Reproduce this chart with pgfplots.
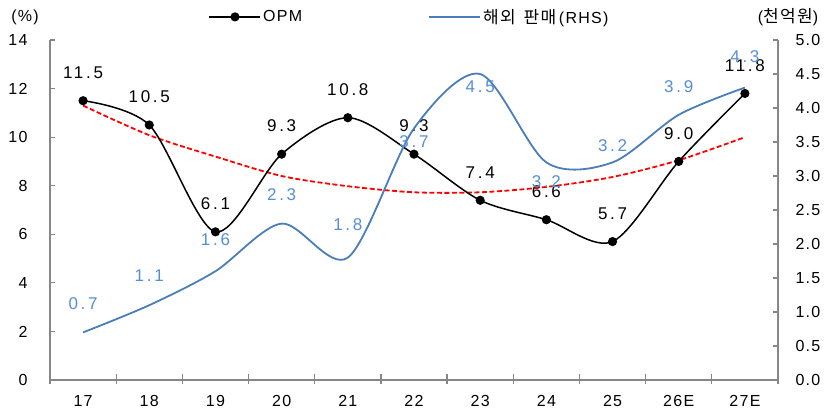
\documentclass[border=0pt]{standalone}
\usepackage{pgfplots}
\pgfplotsset{compat=1.18}
\usepackage{pgfplotstable}
\usepackage{fontspec}
\setmainfont{Liberation Sans}
\newfontfamily\krfont[LetterSpace=8]{Noto Sans CJK KR}
\newfontfamily\tickfam[LetterSpace=8]{Liberation Sans}
\newfontfamily\labfam[LetterSpace=16]{Liberation Sans}
\newcommand\tickfont{\tickfam\fontsize{16bp}{18bp}\selectfont}
\newcommand\labfont{\labfam\fontsize{17bp}{19bp}\selectfont}
\definecolor{axgray}{RGB}{134,134,134}
\definecolor{serblue}{RGB}{74,126,187}
\definecolor{labblue}{RGB}{85,142,213}

\pgfplotstableread{
x opm trend sales
0 11.5 11.30 0.7
1 10.5 10.08 1.1
2 6.1 9.20 1.6
3 9.3 8.40 2.3
4 10.8 7.98 1.8
5 9.3 7.73 3.7
6 7.4 7.73 4.5
7 6.6 7.95 3.2
8 5.7 8.36 3.2
9 9.0 9.05 3.9
10 11.8 10.00 4.3
}\datatable

\begin{document}
\begin{tikzpicture}
\pgfplotsset{
  common/.style={
    at={(0,0)}, anchor=south west, scale only axis,
    width=728bp, height=340bp,
    xmin=-0.5, xmax=10.5, clip=false,
    tick align=inside,
    /pgf/number format/assume math mode=true,
    tick style={axgray, line width=1.2bp},
    major tick length=5bp,
    axis line style={axgray, line width=1.5bp},
    ticklabel style={font=\tickfont, text=black},
  }
}
\begin{axis}[common,
  ymin=0, ymax=14, ytick={0,2,...,14},
  axis y line*=left, axis x line*=bottom,
  xtick={-0.5,0.5,...,10.5},
  x tick label as interval,
  xticklabels={17,18,19,20,21,22,23,24,25,26E,27E},
  x tick style={yshift=-4bp, yscale=2},
  xticklabel style={yshift=-12bp},
  yticklabel style={xshift=-19bp},
]
\addplot[red, dash pattern=on 5bp off 2.5bp, line width=1.8bp, smooth] table[x=x,y=trend]{\datatable};
\addplot[black, line width=1.5bp, smooth, mark=*, mark size=3.8bp, mark options={solid},
  nodes near coords, point meta=y,
  nodes near coords style={font=\labfont, text=black, anchor=center, yshift=28bp,
    /pgf/number format/fixed, /pgf/number format/fixed zerofill, /pgf/number format/precision=1}]
  table[x=x,y=opm]{\datatable};
\end{axis}
\begin{axis}[common,
  ymin=0, ymax=5, ytick={0,0.5,...,5},
  axis y line*=right, axis x line=none,
  yticklabel style={xshift=14bp, /pgf/number format/fixed, /pgf/number format/fixed zerofill, /pgf/number format/precision=1},
  legend style={at={(0.494,1.068)}, anchor=center, draw=none, fill=none,
    font=\tickfont, legend columns=2,
    /tikz/every even column/.append style={column sep=124bp}},
  legend image code/.code={\draw[mark repeat=2,mark phase=2,#1] plot coordinates {(0bp,0bp) (25.5bp,0bp) (51bp,0bp)};},
]
\addlegendimage{black, line width=1.5bp, mark=*, mark size=3.8bp}
\addlegendentry{OPM}
\addplot[serblue, line width=1.8bp, smooth] table[x=x,y=sales]{\datatable};
\addlegendentry{{\krfont\fontsize{17bp}{19bp}\selectfont 해외\hspace{8bp}판매}\,(RHS)}
\addplot[draw=none, mark=none, forget plot, nodes near coords, point meta=explicit symbolic,
  nodes near coords style={font=\labfont, text=labblue, anchor=center}]
  coordinates {(0,1.12)[0.7] (1,1.54)[1.1] (2,2.06)[1.6] (3,2.72)[2.3] (4,2.28)[1.8]
   (5,3.5)[3.7] (6,4.31)[4.5] (7,2.91)[3.2] (8,3.44)[3.2] (9,4.32)[3.9] (10,4.75)[4.3]};
\end{axis}
\node[font=\tickfont] at (-25bp,363bp) {(\%)};
\node[font=\tickfont] at (738bp,363bp) {({\krfont\fontsize{17bp}{19bp}\selectfont 천억원})};
\pgfresetboundingbox
\path[use as bounding box] (-50bp,-34bp) rectangle (780bp,380bp);
\end{tikzpicture}
\end{document}
